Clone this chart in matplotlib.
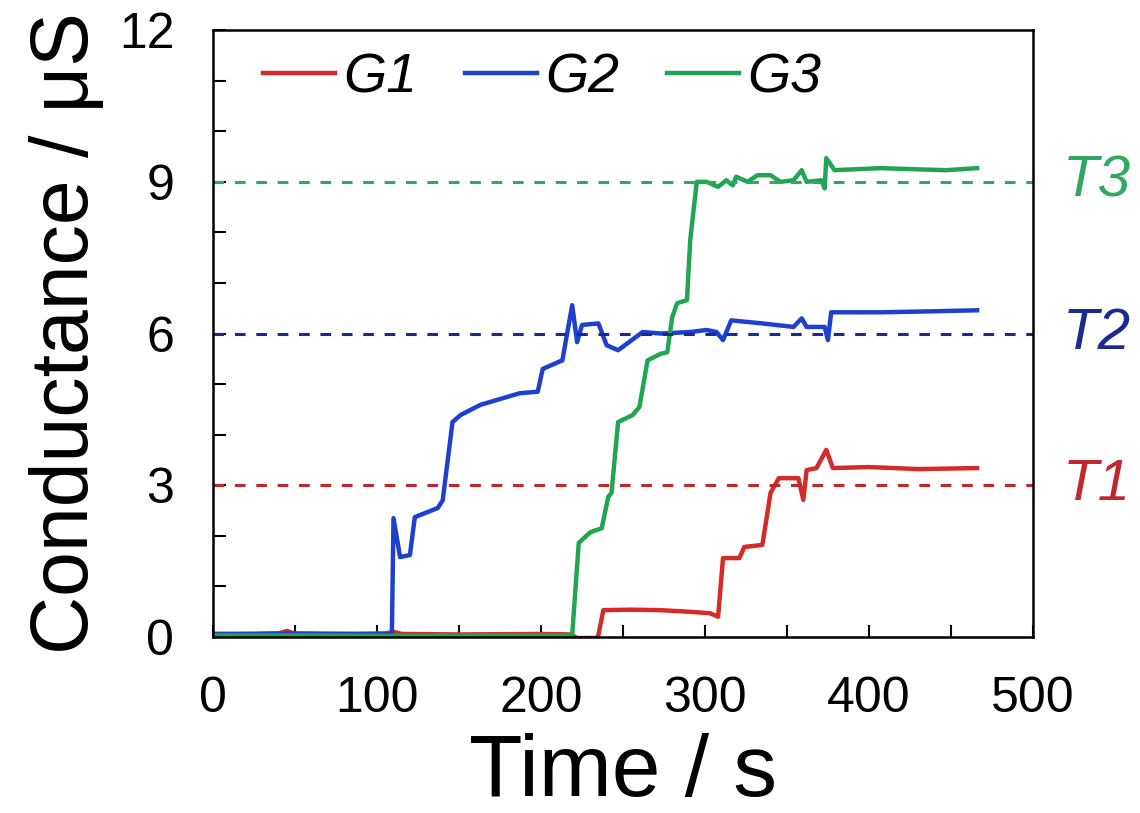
import matplotlib.pyplot as plt
from matplotlib.ticker import MultipleLocator
from matplotlib.transforms import blended_transform_factory

plt.rcParams['font.family'] = ['Liberation Sans', 'DejaVu Sans']

# G1 (red)
t1 = [0, 20, 40, 45, 50, 80, 105, 110, 115, 150, 200, 218, 222, 234, 235, 238, 255, 273, 290, 303,
      308, 311, 321, 324, 335, 340, 345, 357, 360, 362, 368, 374, 378, 400, 430, 466]
g1 = [0.06, 0.05, 0.07, 0.12, 0.06, 0.05, 0.07, 0.1, 0.06, 0.05, 0.06, 0.05, -0.02, -0.02, 0.04, 0.53, 0.54, 0.53,
      0.5, 0.47, 0.40, 1.56, 1.56, 1.78, 1.82, 2.85, 3.14, 3.14, 2.71, 3.3, 3.34, 3.7, 3.34, 3.36, 3.32, 3.34]

# G2 (blue)
t2 = [0, 50, 100, 109, 110, 114, 120, 123, 137, 140, 146, 151, 163, 187, 198, 201, 213, 219, 222, 225,
      235, 240, 247, 262, 273, 291, 301, 307, 311, 316, 335, 354, 359, 362, 373, 375, 377, 407, 440, 466]
g2 = [0.06, 0.07, 0.06, 0.06, 2.35, 1.58, 1.62, 2.37, 2.55, 2.7, 4.25, 4.39, 4.59, 4.82, 4.85, 5.3, 5.47, 6.56, 5.83, 6.17,
      6.2, 5.77, 5.67, 6.03, 6.0, 6.03, 6.07, 6.03, 5.87, 6.26, 6.2, 6.13, 6.3, 6.13, 6.13, 5.87, 6.42, 6.42, 6.44, 6.46]

# G3 (green)
t3 = [0, 60, 120, 180, 219, 220, 223, 230, 237, 241, 243, 247, 256, 260, 265, 273, 277, 280, 283, 289,
      291, 295, 301, 308, 313, 317, 319, 326, 332, 340, 346, 354, 359, 362, 371, 373, 374, 379, 407, 447, 466]
g3 = [0.03, 0.03, 0.02, 0.03, 0.03, 0.5, 1.86, 2.07, 2.15, 2.77, 2.85, 4.25, 4.39, 4.55, 5.47, 5.6, 5.63, 6.32, 6.6, 6.66,
      7.85, 9.0, 9.0, 8.9, 9.03, 8.93, 9.1, 9.0, 9.13, 9.13, 9.0, 9.03, 9.23, 9.0, 9.03, 8.87, 9.47, 9.23, 9.27, 9.23, 9.27]

targets = [3, 6, 9]
target_labels = ["T1", "T2", "T3"]
line_colors = ["#d42a28", "#1f3fcf", "#22a552"]
dash_colors = ["#c0282d", "#1c2a8f", "#2fa860"]

fig = plt.figure(figsize=(11.4, 8.13), dpi=100)
ax = fig.add_axes([0.187, 0.2165, 0.719, 0.7465])

ax.plot(t1, g1, color=line_colors[0], lw=3.2, label="G1")
ax.plot(t2, g2, color=line_colors[1], lw=3.2, label="G2")
ax.plot(t3, g3, color=line_colors[2], lw=3.2, label="G3")

trans = blended_transform_factory(ax.transAxes, ax.transData)
for y, lab, c in zip(targets, target_labels, dash_colors):
    ax.axhline(y, color=c, lw=2.2, linestyle=(0, (3.5, 3.5)))
    ax.text(1.037, y, lab, color=c, fontsize=42, style="italic", va="center", ha="left", transform=trans)

ax.set_xlim(0, 500)
ax.set_ylim(0, 12)
ax.xaxis.set_major_locator(MultipleLocator(100))
ax.xaxis.set_minor_locator(MultipleLocator(50))
ax.yaxis.set_major_locator(MultipleLocator(3))
ax.yaxis.set_minor_locator(MultipleLocator(1))
ax.tick_params(which="both", direction="in", length=9, width=1.5, labelsize=36, pad=28)
for s in ax.spines.values():
    s.set_linewidth(1.8)

ax.set_xlabel("Time / s", fontsize=63, labelpad=8)
ax.set_ylabel("Conductance / μS", fontsize=58, labelpad=10)

leg = ax.legend(loc="upper left", bbox_to_anchor=(0.0, 1.045), ncol=3, frameon=False, fontsize=40,
                handlelength=1.3, handletextpad=0.15, columnspacing=0.85)
for txt in leg.get_texts():
    txt.set_style("italic")

fig.savefig("out.png", dpi=100)
